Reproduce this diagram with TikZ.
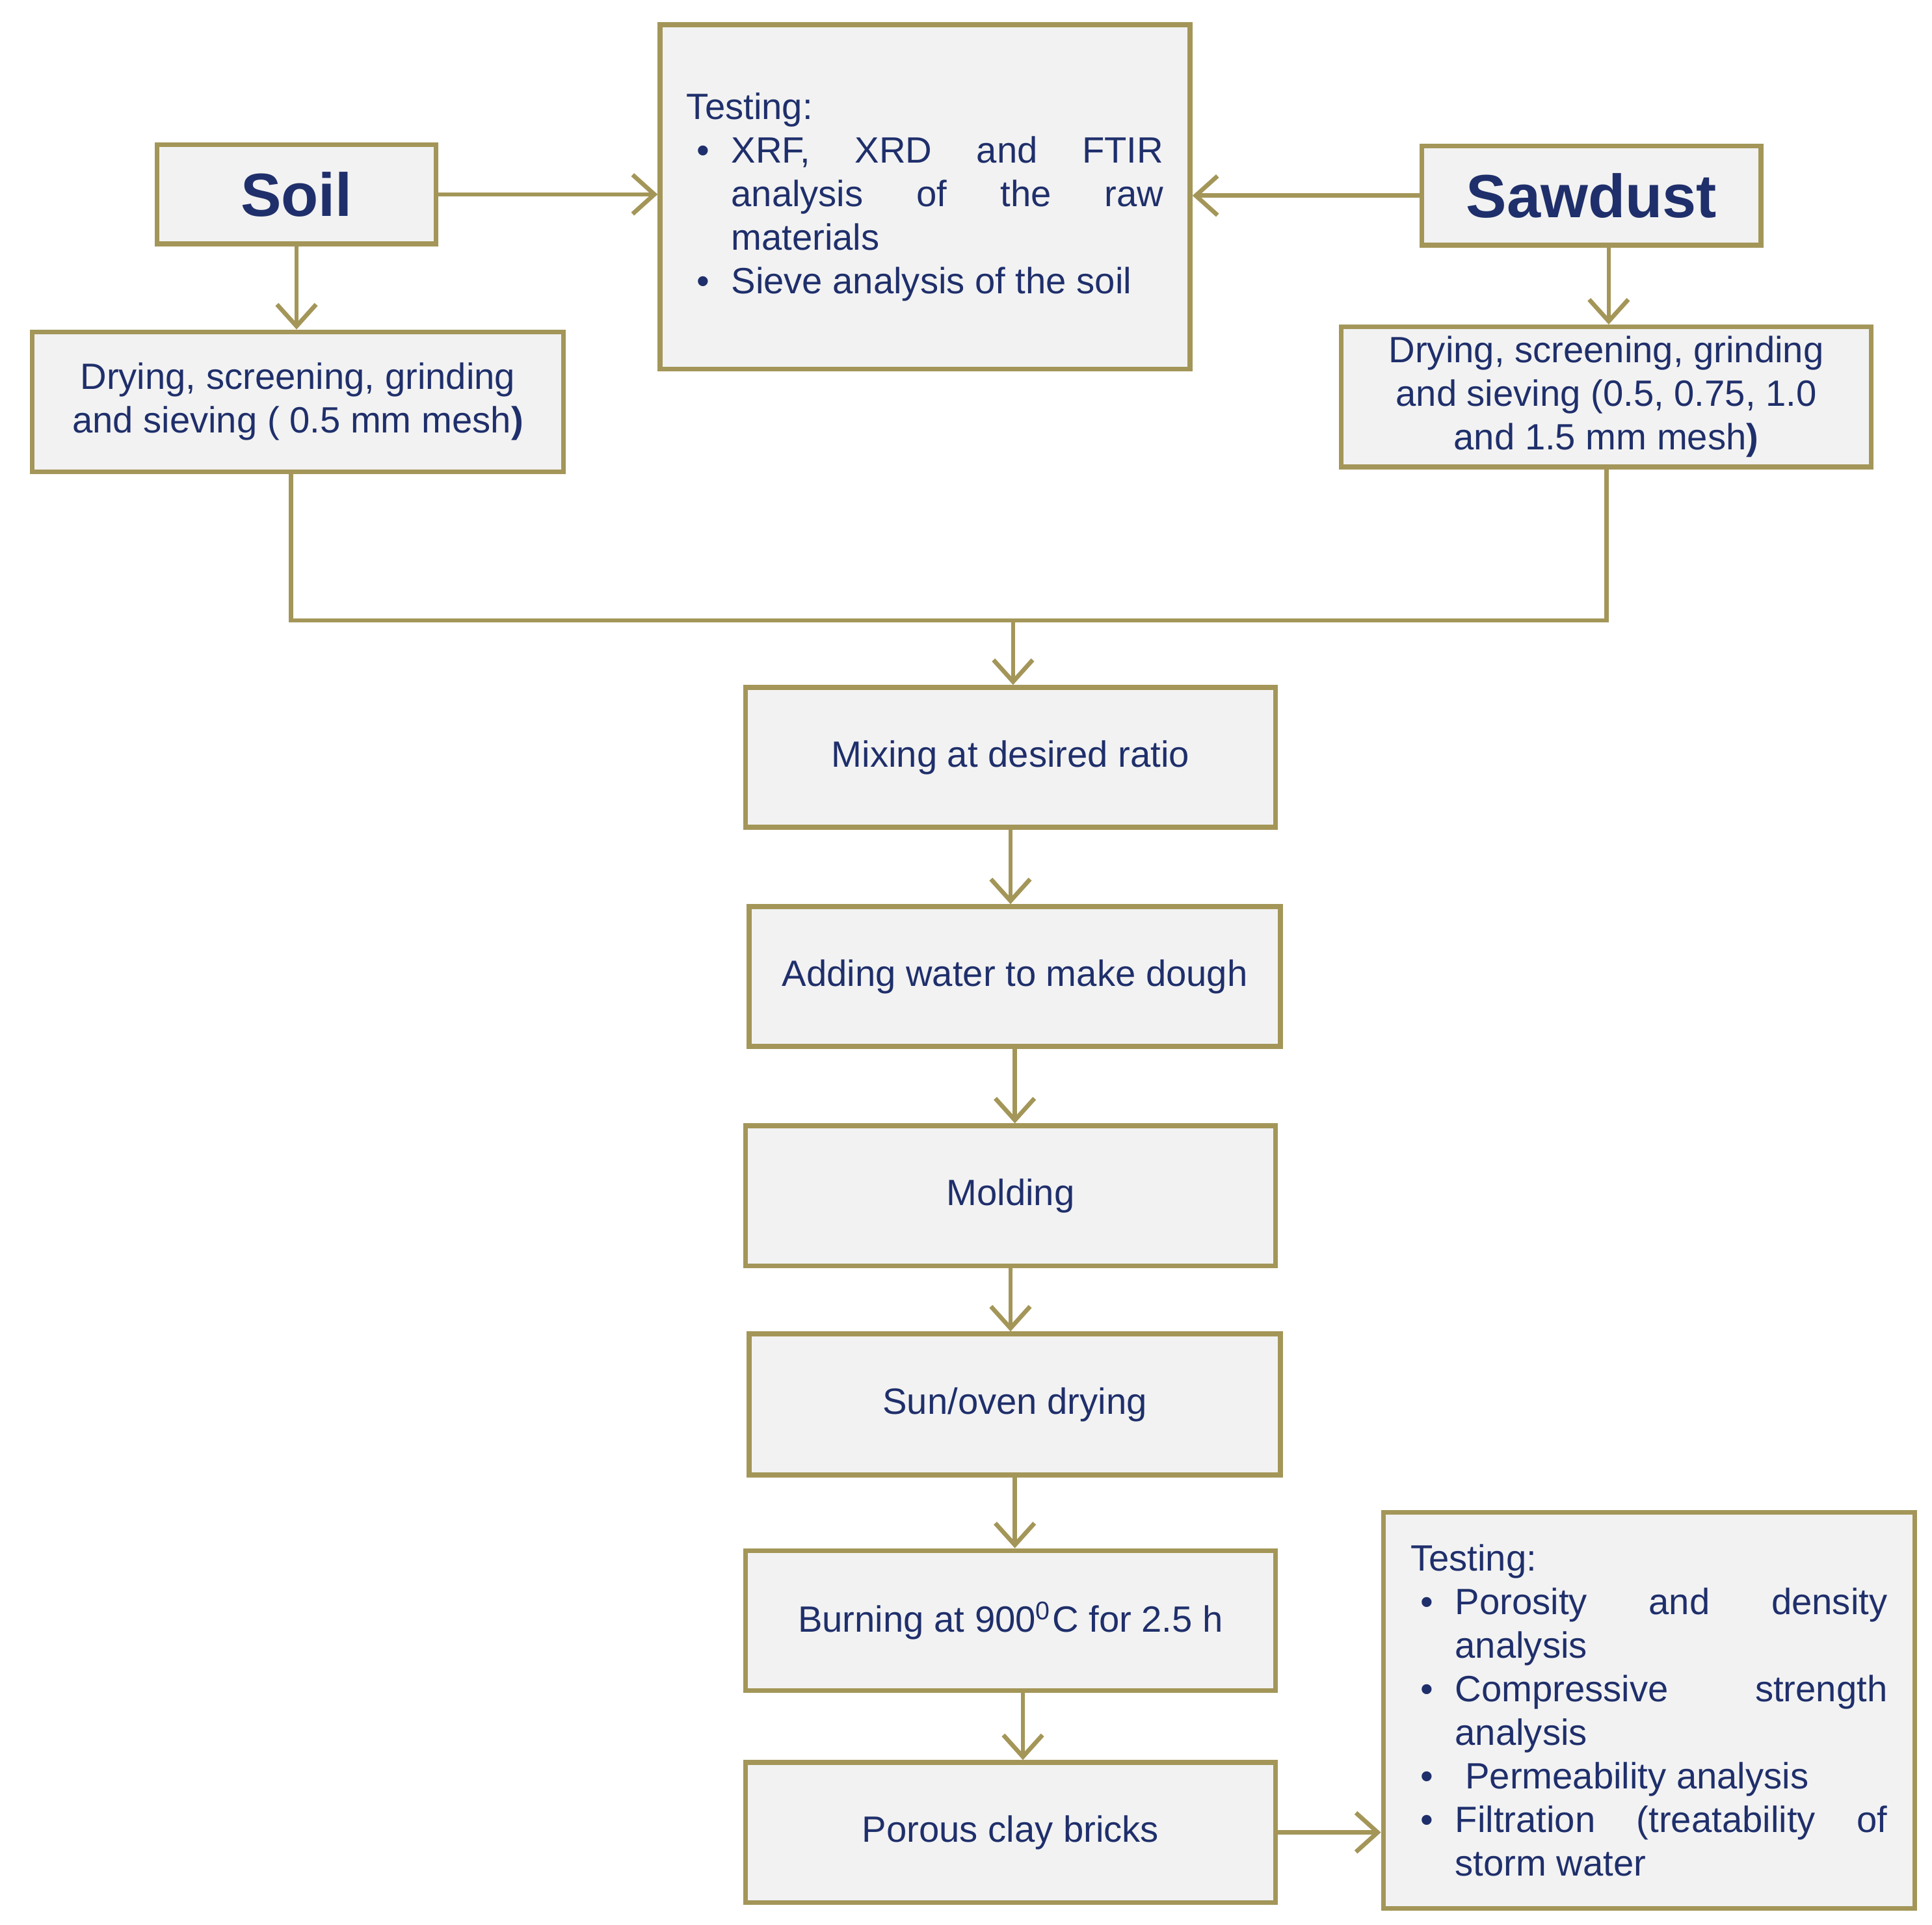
\documentclass[tikz,border=0pt]{standalone}
\usepackage{fontspec}
\setmainfont{Liberation Sans}
\usepackage{enumitem}
\usetikzlibrary{arrows.meta}
\definecolor{bd}{HTML}{A39658}
\definecolor{fl}{HTML}{F2F2F2}
\definecolor{tx}{HTML}{1F2F6B}
\tikzset{
 box/.style={draw=bd,fill=fl,line width=1.1pt,text=tx,font=\fontsize{8.4}{10}\selectfont,align=center,inner sep=0pt},
 ln/.style={draw=bd,line width=1pt},
 ar/.style={ln,-{Straight Barb[length=5pt,width=9pt,line width=1pt]}}
}
\newcommand{\bx}[6]{\node[box,minimum width=#3cm-#1cm,minimum height=#4cm-#2cm,anchor=north west] (#5) at (#1,-#2) {#6};}
\begin{document}
\begin{tikzpicture}
\useasboundingbox (0,0) rectangle (15.6,-15.54);
\bx{1.25}{1.15}{3.50}{1.95}{soil}{\fontsize{14}{16}\selectfont\bfseries Soil}
\bx{11.46}{1.16}{14.20}{1.96}{saw}{\fontsize{14}{16}\selectfont\bfseries Sawdust}
\bx{5.31}{0.18}{9.59}{2.96}{test1}{\begin{minipage}{3.85cm}\fontsize{8.4}{10}\selectfont\hyphenpenalty=10000
Testing:
\begin{itemize}[leftmargin=0.36cm,itemsep=0pt,topsep=0pt,parsep=0pt,label=\textbullet]
\item XRF, XRD and FTIR analysis of the raw materials
\item Sieve analysis of the soil
\end{itemize}\end{minipage}}
\bx{0.24}{2.66}{4.53}{3.79}{dl}{Drying, screening, grinding\\and sieving ( 0.5 mm mesh\textbf{)}}
\bx{10.81}{2.62}{15.09}{3.75}{dr}{Drying, screening, grinding\\and sieving (0.5, 0.75, 1.0\\and 1.5  mm mesh\textbf{)}}
\bx{6.00}{5.53}{10.28}{6.66}{mix}{Mixing at desired ratio}
\bx{6.03}{7.30}{10.32}{8.43}{add}{Adding water to make dough}
\bx{6.00}{9.07}{10.28}{10.20}{mold}{Molding}
\bx{6.03}{10.75}{10.32}{11.89}{sun}{Sun/oven drying}
\bx{6.00}{12.50}{10.28}{13.63}{burn}{Burning at 900\textsuperscript{0}C for 2.5 h}
\bx{6.00}{14.21}{10.28}{15.34}{por}{Porous clay bricks}
\bx{11.15}{12.19}{15.44}{15.39}{test2}{\begin{minipage}{3.85cm}\fontsize{8.4}{10}\selectfont\hyphenpenalty=10000
Testing:
\begin{itemize}[leftmargin=0.36cm,itemsep=0pt,topsep=0pt,parsep=0pt,label=\textbullet]
\item Porosity and density analysis
\item Compressive strength analysis
\item \ Permeability analysis
\item Filtration (treatability of storm water
\end{itemize}\end{minipage}}
\draw[ar] (soil.east) -- (test1.west|-soil.east);
\draw[ar] (saw.west) -- (test1.east|-saw.west);
\draw[ar] (soil.south) -- (dl.north-|soil.south);
\draw[ar] (saw.south) ++(0.14,0) coordinate (s1) -- (s1|-dr.north);
\coordinate (j) at (8.18,-5.01);
\draw[ln] (2.35,-3.79) coordinate (d1) -- (d1|-j) -- (12.97,-5.01) coordinate (d2) -- (d2|-dr.south);
\draw[ar] (j) -- (j|-mix.north);
\draw[ar] (mix.south) -- (mix.south|-add.north);
\draw[ar] (add.south) -- (add.south|-mold.north);
\draw[ar] (mold.south) -- (mold.south|-sun.north);
\draw[ar] (sun.south) -- (sun.south|-burn.north);
\draw[ar] ([xshift=0.1cm]burn.south) -- ([xshift=0.1cm]burn.south|-por.north);
\draw[ar] (por.east) -- (test2.west|-por.east);
\end{tikzpicture}
\end{document}
